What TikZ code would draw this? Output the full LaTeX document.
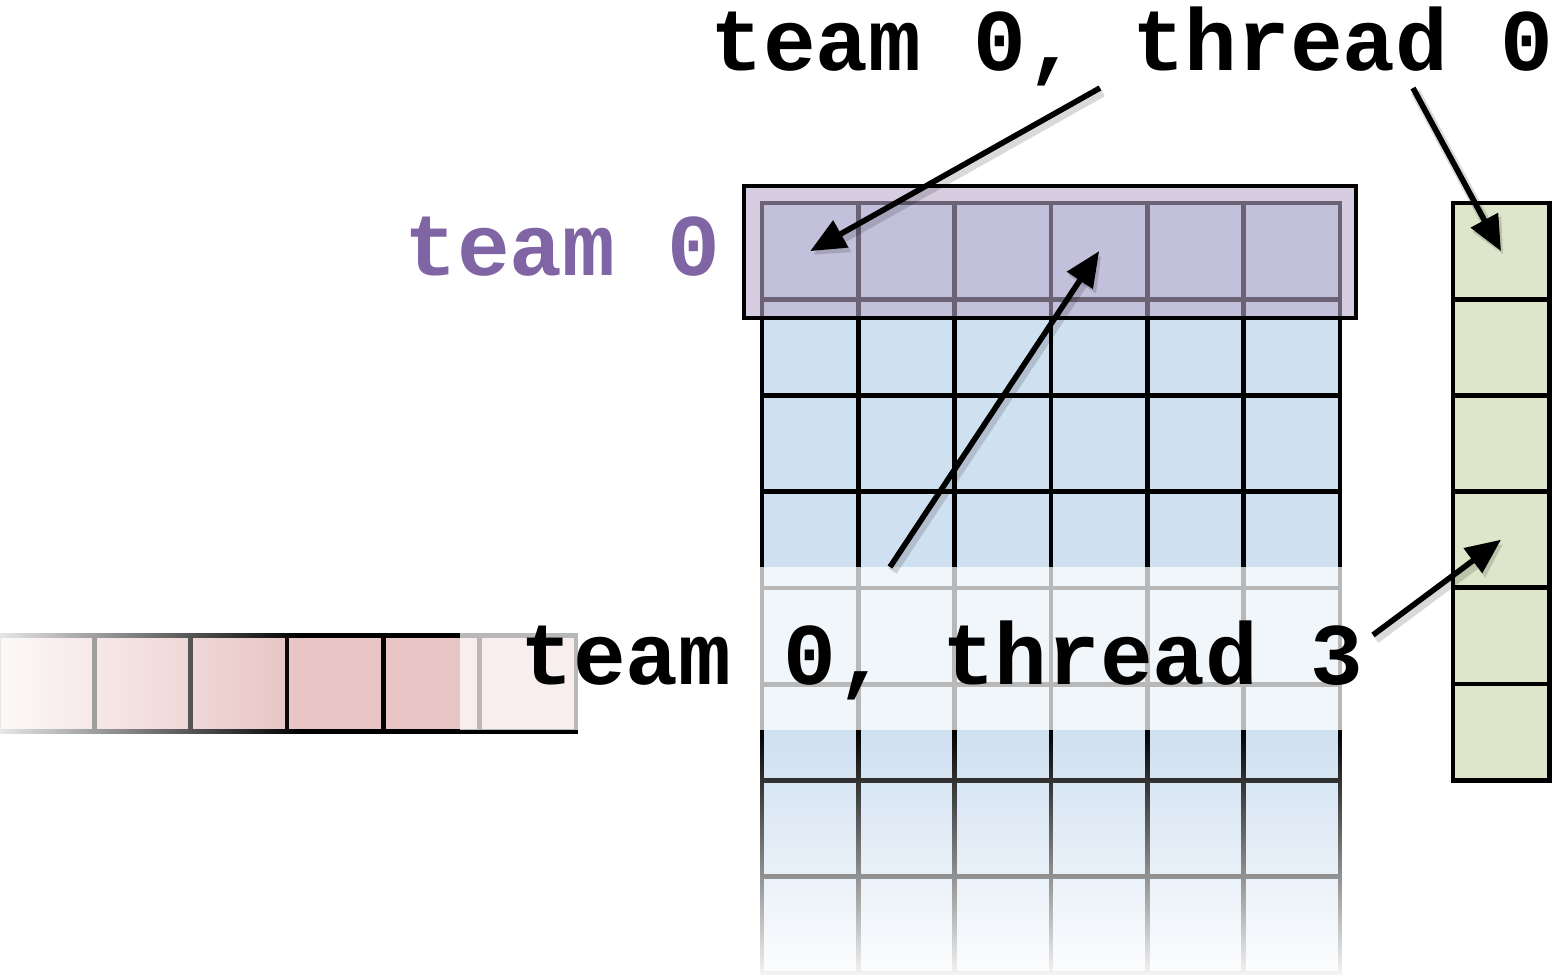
\documentclass[tikz,border=0pt]{standalone}
\usepackage{fontspec}
\setmonofont{Liberation Mono}
\usetikzlibrary{arrows.meta,fadings}

\definecolor{cellblue}{RGB}{207,224,241}
\definecolor{cellgreen}{RGB}{221,230,202}
\definecolor{cellred}{RGB}{233,196,196}
\definecolor{teampurple}{RGB}{186,169,202}
\definecolor{labelpurple}{RGB}{127,101,163}

\tikzfading[name=fadeleft, left color=transparent!8, right color=transparent!100]
\tikzfading[name=fadedown, top color=transparent!100, bottom color=transparent!0]

\begin{document}
\begin{tikzpicture}[x=0.02cm,y=-0.02cm,
cell/.style={draw=black,line width=2.7pt,minimum size=1.926cm,inner sep=0pt,outer sep=0pt},
label/.style={font=\ttfamily\bfseries\fontsize{50}{52}\selectfont,inner sep=0pt,anchor=base west},
pointer/.style={-{Triangle[length=20pt,width=17pt]},line width=3.2pt}]
\useasboundingbox (0,0) rectangle (1566,976);

% strip on the left, fading out
\foreach \i in {0,...,5}
	\node[cell,fill=cellred] (r-\i) at (46.3+96.3*\i,683.5) {};
\fill[white,path fading=fadeleft] (-5,628) rectangle (300,739);

% matrix
\foreach \r in {0,...,7}
	\foreach \c in {0,...,5}
		\node[cell,fill=cellblue] (b-\r-\c) at (810.2+96.33*\c,251.1+96.25*\r) {};
\fill[white,path fading=fadedown] (755,732) rectangle (1348,985);

% vector
\foreach \i in {0,...,5}
	\node[cell,fill=cellgreen] (g-\i) at (1501,251.1+96.2*\i) {};

% team 0 row
\node[draw=black,line width=2.7pt,fill=teampurple,fill opacity=.58,
	minimum width=12.24cm,minimum height=2.64cm] (team) at (1050,252) {};

\fill[white,fill opacity=.72] (460,567) rectangle (1345,730);

\node[label,text=labelpurple] (lbl-team) at (404,276) {team 0};
\node[label] (lbl-top) at (710,71) {team 0, thread 0};
\node[label] (lbl-mid) at (520,684) {team 0, thread 3};

\coordinate (s-top-a) at (1100,88);
\coordinate (s-top-b) at (1413,88);
\coordinate (s-mid-a) at (890,567);
\coordinate (s-mid-b) at (1373,635);

% soft shadow
\begin{scope}[transform canvas={shift={(0.05cm,-0.08cm)}},draw opacity=.15,fill opacity=.15]
\draw[pointer,line width=5.5pt] (s-top-a) -- (b-0-0.center);
\draw[pointer,line width=5.5pt] (s-top-b) -- (g-0.center);
\draw[pointer,line width=5.5pt] (s-mid-a) -- (b-0-3.center);
\draw[pointer,line width=5.5pt] (s-mid-b) -- (g-3.center);
\end{scope}

\draw[pointer] (s-top-a) -- (b-0-0.center);
\draw[pointer] (s-top-b) -- (g-0.center);
\draw[pointer] (s-mid-a) -- (b-0-3.center);
\draw[pointer] (s-mid-b) -- (g-3.center);
\end{tikzpicture}
\end{document}
